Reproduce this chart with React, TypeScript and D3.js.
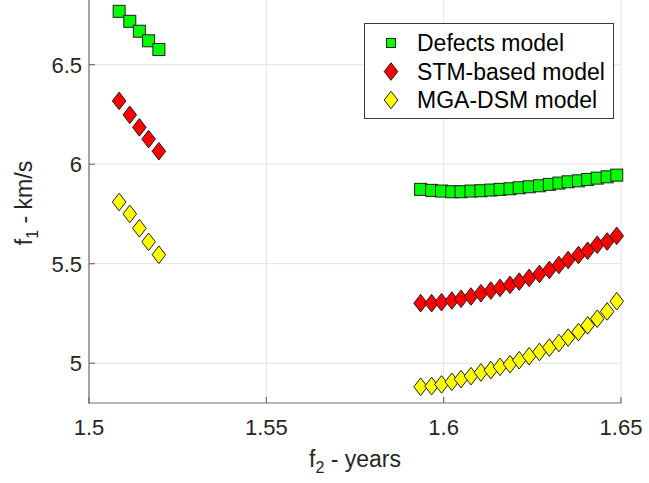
import React from "react";
import * as d3 from "d3";

// left cluster (short transfer times)
const xLeft = [1.5085, 1.5115, 1.5142, 1.5168, 1.5197];
const defectsLeft = [6.768, 6.718, 6.668, 6.62, 6.576];
const stmLeft = [6.318, 6.248, 6.185, 6.126, 6.065];
const mgaLeft = [5.81, 5.75, 5.678, 5.61, 5.545];

// right cluster
const xRight = [
  1.5935, 1.5966, 1.5994, 1.6023, 1.6049, 1.6077, 1.6105, 1.6133, 1.6159,
  1.6187, 1.6213, 1.6241, 1.627, 1.6298, 1.6325, 1.6351, 1.638, 1.6406,
  1.6433, 1.6461, 1.6488,
];
const defectsRight = [
  5.8735, 5.8685, 5.865, 5.8615, 5.8615, 5.865, 5.8665, 5.87, 5.8735, 5.8765,
  5.8815, 5.8865, 5.8915, 5.8985, 5.905, 5.9115, 5.9165, 5.9235, 5.93, 5.9365,
  5.945,
];
const stmRight = [
  5.3015, 5.3015, 5.3065, 5.315, 5.3235, 5.335, 5.3515, 5.365, 5.3785, 5.3935,
  5.41, 5.4285, 5.4485, 5.4685, 5.4935, 5.5185, 5.5435, 5.565, 5.595, 5.6115,
  5.64,
];
const mgaRight = [
  4.8815, 4.885, 4.8935, 4.9065, 4.92, 4.935, 4.9535, 4.965, 4.9815, 4.995,
  5.015, 5.035, 5.0565, 5.0785, 5.1015, 5.1285, 5.1565, 5.19, 5.2235, 5.26,
  5.3115,
];

const xTicks = [1.5, 1.55, 1.6, 1.65];
const yTicks = [5, 5.5, 6, 6.5];
const seriesNames = ["Defects model", "STM-based model", "MGA-DSM model"];

const width = 649;
const height = 483;
const font = "'Liberation Sans', Arial, Helvetica, sans-serif";

export default function App() {
  const x = d3.scaleLinear().domain([1.5, 1.65]).range([89, 621]);
  const y = d3.scaleLinear().domain([4.8, 6.825]).range([403, 0]);

  const series = [
    { name: seriesNames[0], shape: "square", fill: "#00ff00", ys: [...defectsLeft, ...defectsRight] },
    { name: seriesNames[1], shape: "diamond", fill: "#ff0000", ys: [...stmLeft, ...stmRight] },
    { name: seriesNames[2], shape: "diamond", fill: "#ffff00", ys: [...mgaLeft, ...mgaRight] },
  ];
  const xs = [...xLeft, ...xRight];

  const marker = (shape: string, cx: number, cy: number, fill: string, s = 1) => {
    if (shape === "square") {
      const h = 6 * s;
      return (
        <rect x={cx - h} y={cy - h} width={2 * h} height={2 * h} fill={fill} stroke="#1f1f1f" strokeWidth={1} />
      );
    }
    const w = 6.8 * s;
    const hh = 8.8 * s;
    return (
      <path
        d={`M${cx},${cy - hh}L${cx + w},${cy}L${cx},${cy + hh}L${cx - w},${cy}Z`}
        fill={fill}
        stroke="#1f1f1f"
        strokeWidth={1}
      />
    );
  };

  const axisColor = "#707070";
  const textColor = "#262626";

  return (
    <svg
      width={width}
      height={height}
      style={{ position: "fixed", left: 0, top: 0, background: "#fff" }}
      fontFamily={font}
    >
      <rect width={width} height={height} fill="#fff" />
      {/* grid */}
      <g stroke="#e3e3e3" strokeWidth={1}>
        {xTicks.map((t) => (
          <line key={"gx" + t} x1={x(t)} x2={x(t)} y1={0} y2={403} />
        ))}
        {yTicks.map((t) => (
          <line key={"gy" + t} x1={89} x2={621} y1={y(t)} y2={y(t)} />
        ))}
      </g>
      {/* axes */}
      <g stroke={axisColor} strokeWidth={1.2}>
        <line x1={89} x2={89} y1={0} y2={403.5} />
        <line x1={88.5} x2={621.5} y1={403} y2={403} />
        {xTicks.map((t) => (
          <line key={"tx" + t} x1={x(t)} x2={x(t)} y1={403} y2={397} />
        ))}
        {yTicks.map((t) => (
          <line key={"ty" + t} x1={89} x2={95} y1={y(t)} y2={y(t)} />
        ))}
      </g>
      <g fill={textColor} fontSize={22}>
        {xTicks.map((t) => (
          <text key={"lx" + t} x={x(t)} y={435} textAnchor="middle">
            {d3.format("")(t)}
          </text>
        ))}
        {yTicks.map((t) => (
          <text key={"ly" + t} x={82} y={y(t)} dy="0.36em" textAnchor="end">
            {d3.format("")(t)}
          </text>
        ))}
      </g>
      {/* axis labels */}
      <text x={355} y={467} textAnchor="middle" fontSize={23} fill={textColor}>
        f<tspan fontSize={16} dy={6}>2</tspan>
        <tspan dy={-6}> - years</tspan>
      </text>
      <text transform="translate(32,203) rotate(-90)" textAnchor="middle" fontSize={23} fill={textColor}>
        f<tspan fontSize={16} dy={6}>1</tspan>
        <tspan dy={-6}> - km/s</tspan>
      </text>
      {/* data */}
      {series.map((s) => (
        <g key={s.name}>{s.ys.map((v, i) => <g key={i}>{marker(s.shape, x(xs[i]), y(v), s.fill)}</g>)}</g>
      ))}
      {/* legend */}
      <g>
        <rect x={364.5} y={23.5} width={249} height={95} fill="#fff" stroke="#3a3a3a" strokeWidth={1} />
        {series.map((s, i) => (
          <g key={"lg" + s.name}>
            {s.shape === "square"
              ? marker(s.shape, 391, 43 + i * 28.5, s.fill, 0.75)
              : marker(s.shape, 391, 43 + i * 28.5, s.fill, 1.0)}
            <text x={417} y={43 + i * 28.5} dy="0.36em" fontSize={23} fill="#000">
              {s.name}
            </text>
          </g>
        ))}
      </g>
    </svg>
  );
}
